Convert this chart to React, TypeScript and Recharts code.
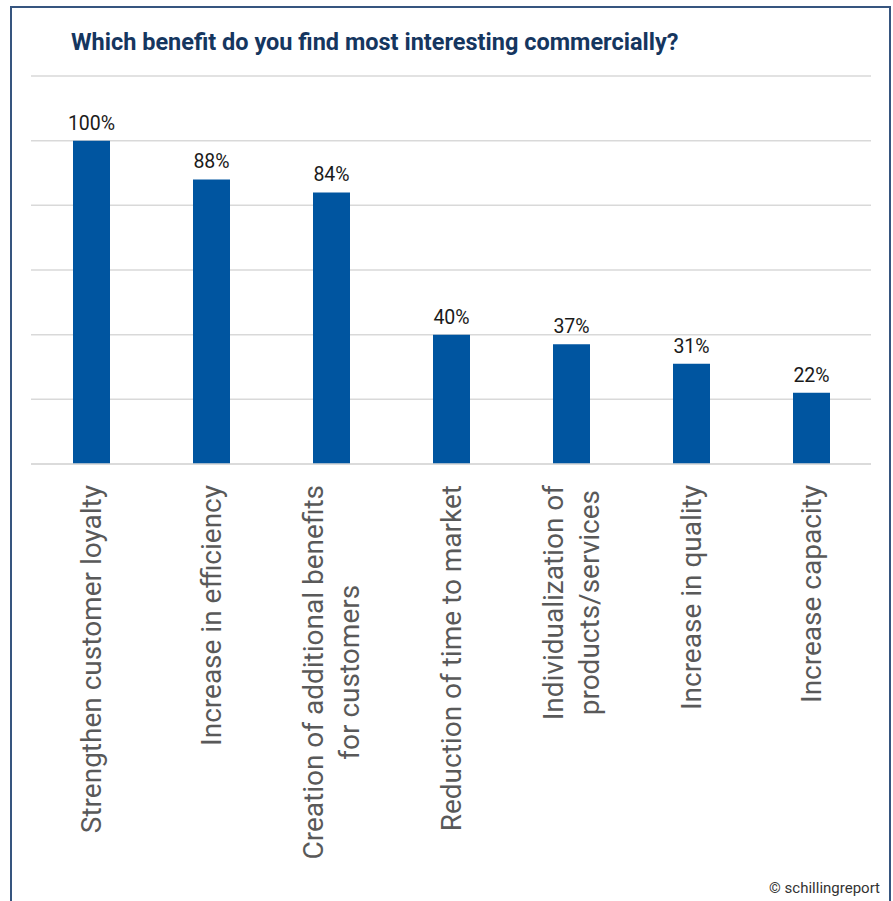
import React from "react";
import { BarChart, Bar, XAxis, YAxis, CartesianGrid, LabelList } from "recharts";

const categories = [
  ["Strengthen customer loyalty"],
  ["Increase in efficiency"],
  ["Creation of additional benefits", "for customers"],
  ["Reduction of time to market"],
  ["Individualization of", "products/services"],
  ["Increase in quality"],
  ["Increase capacity"],
];
const shares = [100, 88, 84, 40, 37, 31, 22];
const yTicks = [0, 20, 40, 60, 80, 100, 120];

const data = categories.map((lines, i) => ({
  name: lines.join("\n"),
  value: shares[i],
}));

const TICK_FONT = "28px Roboto";
let ctx: CanvasRenderingContext2D | null = null;
const measure = (s: string) => {
  if (!ctx) ctx = document.createElement("canvas").getContext("2d");
  if (!ctx) return s.length * 13;
  ctx.font = TICK_FONT;
  return ctx.measureText(s).width;
};

const CategoryTick = (props: any) => {
  const { x, payload } = props;
  const lines: string[] = String(payload.value).split("\n");
  const maxW = Math.max(...lines.map(measure));
  const lh = 36;
  return (
    <g transform={`translate(${x},485) rotate(-90)`}>
      {lines.map((l, i) => (
        <text
          key={i}
          x={-maxW / 2}
          y={(i - (lines.length - 1) / 2) * lh}
          textAnchor="middle"
          dominantBaseline="central"
          fill="#595959"
          style={{ font: TICK_FONT }}
        >
          {l}
        </text>
      ))}
    </g>
  );
};

export default function App() {
  return (
    <div
      style={{
        position: "absolute",
        left: 0,
        top: 0,
        width: 893,
        height: 901,
        overflow: "hidden",
        background: "#fff",
        fontFamily: "Roboto",
      }}
    >
      <div
        style={{
          position: "absolute",
          left: 10,
          top: 6,
          width: 877,
          height: 920,
          border: "2px solid #36557f",
        }}
      />
      <div
        style={{
          position: "absolute",
          left: 71,
          top: 28,
          fontSize: 23.5,
          fontWeight: 700,
          color: "#15365f",
          whiteSpace: "nowrap",
        }}
      >
        Which benefit do you find most interesting commercially?
      </div>
      <div style={{ position: "absolute", left: 0, top: 0 }}>
        <BarChart
          width={893}
          height={901}
          data={data}
          margin={{ top: 76, right: 22, bottom: 17, left: 31 }}
          barSize={37}
        >
          <CartesianGrid vertical={false} stroke="#d9d9d9" strokeWidth={1.5} />
          <YAxis hide domain={[0, 120]} ticks={yTicks} />
          <XAxis
            dataKey="name"
            height={420}
            axisLine={{ stroke: "#d9d9d9", strokeWidth: 1.5 }}
            tickLine={false}
            interval={0}
            tick={<CategoryTick />}
          />
          <Bar dataKey="value" fill="#0055a0" isAnimationActive={false}>
            <LabelList
              dataKey="value"
              position="top"
              offset={11}
              formatter={(v: any) => `${v}%`}
              fill="#1a1a1a"
              fontSize={19.5}
              fontFamily="Roboto"
            />
          </Bar>
        </BarChart>
      </div>
      <div
        style={{
          position: "absolute",
          right: 13,
          top: 879,
          fontSize: 15,
          color: "#333",
          whiteSpace: "nowrap",
        }}
      >
        © schillingreport
      </div>
    </div>
  );
}
